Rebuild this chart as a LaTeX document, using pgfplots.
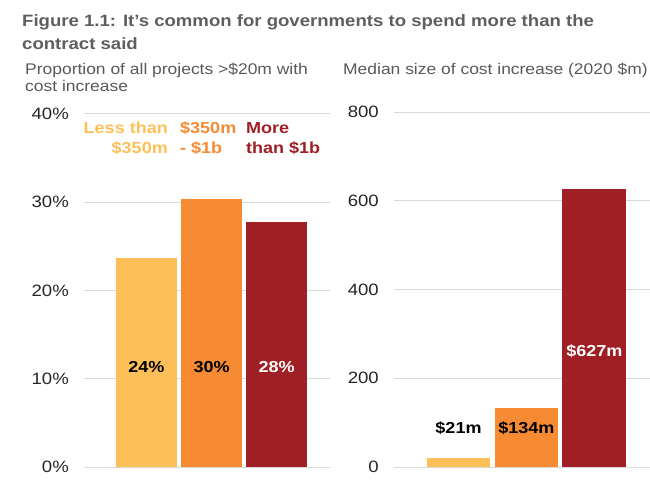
\documentclass[border=0pt]{standalone}
\usepackage{pgfplots}
\pgfplotsset{compat=1.18}
\usepackage{fontspec}
\setmainfont{Liberation Sans}[FakeStretch=1.13]
\definecolor{cYel}{HTML}{FDBF57}
\definecolor{cOra}{HTML}{F68B33}
\definecolor{cRed}{HTML}{A01F24}
\definecolor{cTitle}{HTML}{5E5E5E}
\definecolor{cSub}{HTML}{595959}
\definecolor{cTick}{HTML}{262626}
\definecolor{cGrid}{HTML}{D9D9D9}
\begin{document}
\begin{tikzpicture}
\path[use as bounding box] (0bp,0bp) rectangle (650bp,488bp);
\pgfplotsset{
  panel/.style={
    scale only axis,
    axis line style={draw=none},
    major tick style={draw=none},
    ymajorgrids, grid style={cGrid, line width=1bp},
    xtick=\empty,
    ymin=0,
    xmin=-0.96, xmax=2.82,
    /pgf/number format/assume math mode=true,
    yticklabel style={font=\fontsize{16.5}{18}\selectfont, text=cTick, inner sep=0pt, xshift=-15bp},
    clip=false,
  },
  bar/.style={ybar, bar shift=0pt, bar width=0.94, draw=none, fill=#1},
}
% Left panel
\begin{axis}[panel, at={(84bp,21bp)}, anchor=south west, width=246bp, height=353bp,
  ymax=40, ytick={0,10,20,30,40},
  yticklabel={\pgfmathprintnumber{\tick}\%}]
\addplot[bar=cYel] coordinates {(0,23.7)};
\addplot[bar=cOra] coordinates {(1,30.4)};
\addplot[bar=cRed] coordinates {(2,27.8)};
\node[font=\bfseries\fontsize{16}{18}\selectfont, text=black] at (axis cs:0,11.3) {24\%};
\node[font=\bfseries\fontsize{16}{18}\selectfont, text=black] at (axis cs:1,11.3) {30\%};
\node[font=\bfseries\fontsize{16}{18}\selectfont, text=white] at (axis cs:2,11.3) {28\%};
\end{axis}
% Right panel
\begin{axis}[panel, at={(394bp,21bp)}, anchor=south west, width=256bp, height=355bp,
  xmin=-0.95, xmax=2.82,
  ymax=800, ytick={0,200,400,600,800}]
\addplot[bar=cYel] coordinates {(0,21)};
\addplot[bar=cOra] coordinates {(1,134)};
\addplot[bar=cRed] coordinates {(2,627)};
\node[font=\bfseries\fontsize{16}{18}\selectfont, text=black] at (axis cs:0,88) {\$21m};
\node[font=\bfseries\fontsize{16}{18}\selectfont, text=black] at (axis cs:1,88) {\$134m};
\node[font=\bfseries\fontsize{16}{18}\selectfont, text=white] at (axis cs:2,260) {\$627m};
\end{axis}
% Titles
\node[anchor=base west, inner sep=0pt, text=cTitle, font=\bfseries\fontsize{16.5}{20}\selectfont] at (22bp,461bp) {Figure 1.1: It’s common for governments to spend more than the};
\node[anchor=base west, inner sep=0pt, text=cTitle, font=\bfseries\fontsize{16.5}{20}\selectfont] at (22bp,438bp) {contract said};
\node[anchor=base west, inner sep=0pt, text=cSub, font=\fontsize{15.5}{18}\selectfont] at (25bp,413bp) {Proportion of all projects >\$20m with};
\node[anchor=base west, inner sep=0pt, text=cSub, font=\fontsize{15.5}{18}\selectfont] at (25bp,396bp) {cost increase};
\node[anchor=base west, inner sep=0pt, text=cSub, font=\fontsize{15.5}{18}\selectfont] at (343bp,413bp) {Median size of cost increase (2020 \$m)};
% Legend labels
\node[anchor=base east, inner sep=0pt, text=cYel, font=\bfseries\fontsize{16}{18}\selectfont] at (168bp,354bp) {Less than};
\node[anchor=base east, inner sep=0pt, text=cYel, font=\bfseries\fontsize{16}{18}\selectfont] at (168bp,334bp) {\$350m};
\node[anchor=base west, inner sep=0pt, text=cOra, font=\bfseries\fontsize{16}{18}\selectfont] at (180bp,354bp) {\$350m};
\node[anchor=base west, inner sep=0pt, text=cOra, font=\bfseries\fontsize{16}{18}\selectfont] at (180bp,334bp) {- \$1b};
\node[anchor=base west, inner sep=0pt, text=cRed, font=\bfseries\fontsize{16}{18}\selectfont] at (246bp,354bp) {More};
\node[anchor=base west, inner sep=0pt, text=cRed, font=\bfseries\fontsize{16}{18}\selectfont] at (246bp,334bp) {than \$1b};
\end{tikzpicture}
\end{document}
